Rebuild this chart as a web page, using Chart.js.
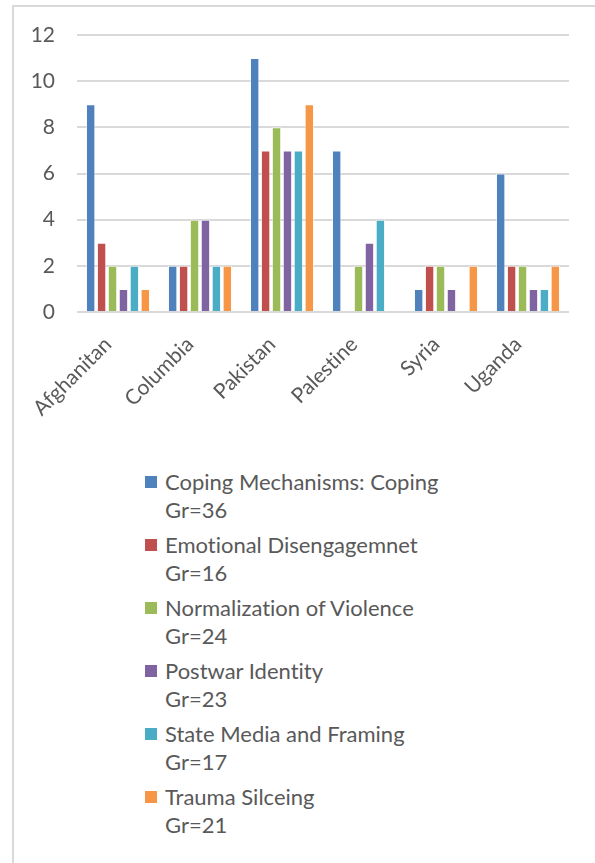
<!DOCTYPE html>
<html>
<head>
<meta charset="utf-8">
<script src="https://cdn.jsdelivr.net/npm/chart.js@4"></script>
<style>
  html, body { margin: 0; padding: 0; background: #fff; overflow: hidden; }
  body { width: 595px; height: 863px; position: relative; font-family: Lato, sans-serif; font-variant-ligatures: none; }
  #frame { position: absolute; left: 12px; top: 5px; width: 640px; height: 900px; border: 2px solid #d9d9d9; box-sizing: border-box; }
  #chartBox { position: absolute; left: 0; top: 0; width: 595px; height: 440px; }
  #legend { position: absolute; left: 145px; top: 468px; color: #595959; font-size: 22px; }
  .item { position: relative; padding-left: 20px; line-height: 28px; margin-bottom: 7px; }
  .swatch { position: absolute; left: 0; top: 8px; width: 12px; height: 12px; }
</style>
</head>
<body>
<div id="frame"></div>
<div id="chartBox"><canvas id="chart"></canvas></div>
<div id="legend"></div>
<script>
const countries = ['Afghanitan', 'Columbia', 'Pakistan', 'Palestine', 'Syria', 'Uganda'];
const seriesNames = [
  ['Coping Mechanisms: Coping', 'Gr=36'],
  ['Emotional Disengagemnet', 'Gr=16'],
  ['Normalization of Violence', 'Gr=24'],
  ['Postwar Identity', 'Gr=23'],
  ['State Media and Framing', 'Gr=17'],
  ['Trauma Silceing', 'Gr=21']
];
const copingValues = [9, 2, 11, 7, 1, 6];
const emotionalValues = [3, 2, 7, 0, 2, 2];
const normalizationValues = [2, 4, 8, 2, 2, 2];
const postwarValues = [1, 4, 7, 3, 1, 1];
const stateMediaValues = [2, 2, 7, 4, 0, 1];
const traumaValues = [1, 2, 9, 0, 2, 2];
const yTicks = [0, 2, 4, 6, 8, 10, 12];
const colors = ['#4f81bd', '#c0504d', '#9bbb59', '#8064a2', '#4bacc6', '#f79646'];

const allValues = [copingValues, emotionalValues, normalizationValues, postwarValues, stateMediaValues, traumaValues];

const datasets = allValues.map((vals, i) => ({
  label: seriesNames[i].join(' '),
  data: vals,
  backgroundColor: colors[i],
  borderColor: 'rgba(255,255,255,0.6)',
  borderWidth: 1,
  categoryPercentage: 0.8,
  barPercentage: 0.86
}));

new Chart(document.getElementById('chart'), {
  type: 'bar',
  data: { labels: countries, datasets: datasets },
  options: {
    responsive: true,
    maintainAspectRatio: false,
    animation: false,
    layout: { padding: { top: 35, right: 26, left: 0, bottom: 0 } },
    plugins: {
      legend: { display: false },
      tooltip: { enabled: false }
    },
    scales: {
      x: {
        grid: { display: false },
        border: { display: false },
        ticks: {
          color: '#595959',
          font: { family: 'Lato', size: 21 },
          maxRotation: 45,
          minRotation: 45,
          padding: 12,
          labelOffset: -10
        },
        afterFit: (scale) => { scale.height = 128; }
      },
      y: {
        min: 0,
        max: 12,
        border: { display: false },
        grid: { color: '#d9d9d9', lineWidth: 2, drawTicks: false },
        afterBuildTicks: (scale) => { scale.ticks = yTicks.map(v => ({ value: v })); },
        ticks: {
          color: '#595959',
          font: { family: 'Lato', size: 21 },
          padding: 22
        },
        afterFit: (scale) => { scale.width = 77; }
      }
    }
  }
});

const legend = document.getElementById('legend');
seriesNames.forEach((lines, i) => {
  const item = document.createElement('div');
  item.className = 'item';
  const sw = document.createElement('span');
  sw.className = 'swatch';
  sw.style.background = colors[i];
  item.appendChild(sw);
  item.appendChild(document.createTextNode(lines[0]));
  item.appendChild(document.createElement('br'));
  item.appendChild(document.createTextNode(lines[1]));
  legend.appendChild(item);
});
</script>
</body>
</html>
